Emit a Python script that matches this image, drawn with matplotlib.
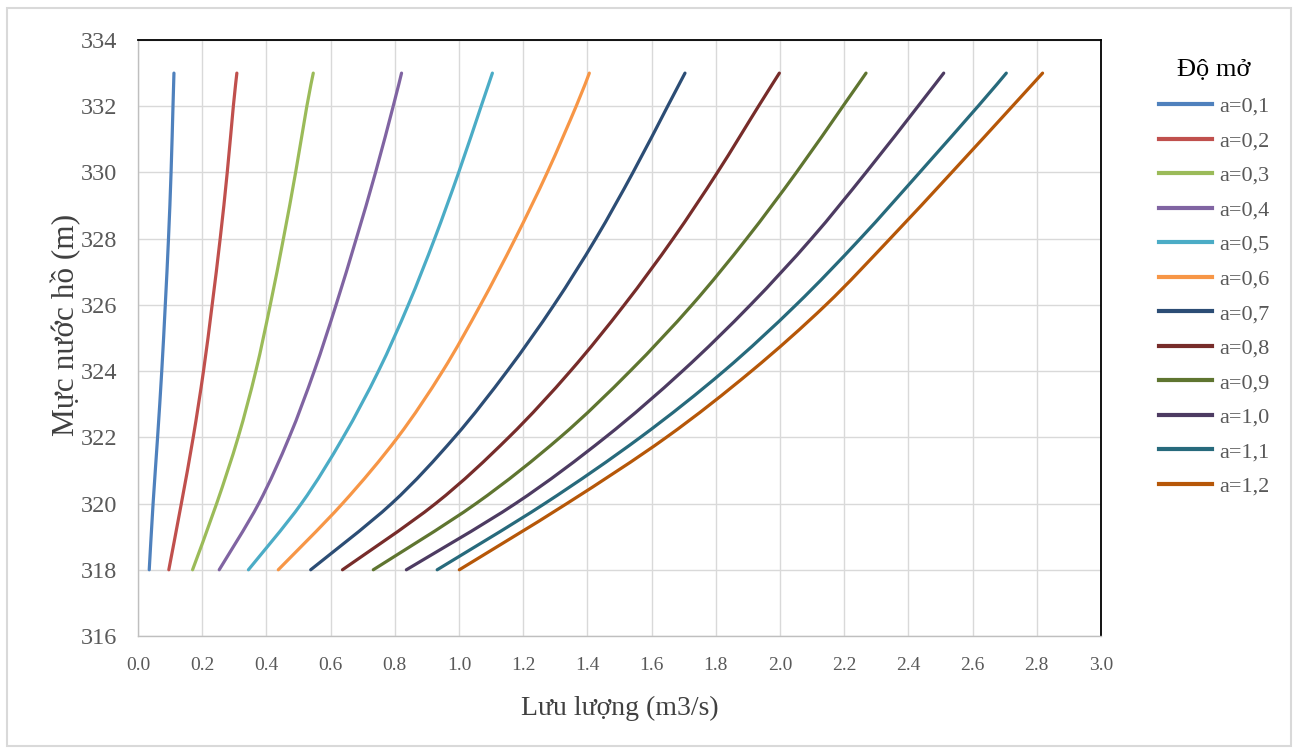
import matplotlib
matplotlib.use("Agg")
import matplotlib.pyplot as plt
from matplotlib.patches import Rectangle, PathPatch
from matplotlib.path import Path
from matplotlib.lines import Line2D

plt.rcParams['font.family'] = ['Liberation Serif', 'DejaVu Serif']

# Water levels (m)
levels = [318, 320, 322, 324, 326, 328, 330, 332, 333]

# Discharge (m3/s) for each gate opening
q_01 = [0.035, 0.047, 0.061, 0.074, 0.085, 0.095, 0.103, 0.109, 0.112]
q_02 = [0.096, 0.135, 0.172, 0.204, 0.231, 0.256, 0.278, 0.297, 0.308]
q_03 = [0.170, 0.245, 0.312, 0.367, 0.412, 0.453, 0.491, 0.526, 0.546]
q_04 = [0.253, 0.376, 0.471, 0.549, 0.617, 0.680, 0.740, 0.795, 0.821]
q_05 = [0.344, 0.509, 0.639, 0.749, 0.842, 0.924, 0.999, 1.069, 1.104]
q_06 = [0.437, 0.637, 0.809, 0.949, 1.067, 1.175, 1.275, 1.365, 1.406]
q_07 = [0.538, 0.790, 0.986, 1.150, 1.296, 1.426, 1.542, 1.650, 1.704]
q_08 = [0.637, 0.927, 1.155, 1.347, 1.515, 1.667, 1.805, 1.933, 1.998]
q_09 = [0.733, 1.053, 1.315, 1.533, 1.726, 1.896, 2.051, 2.196, 2.268]
q_10 = [0.836, 1.176, 1.456, 1.696, 1.908, 2.098, 2.268, 2.430, 2.510]
q_11 = [0.932, 1.267, 1.565, 1.825, 2.050, 2.250, 2.435, 2.617, 2.705]
q_12 = [1.001, 1.336, 1.646, 1.911, 2.143, 2.343, 2.535, 2.724, 2.818]

series = [q_01, q_02, q_03, q_04, q_05, q_06, q_07, q_08, q_09, q_10, q_11, q_12]
labels = ["a=0,1", "a=0,2", "a=0,3", "a=0,4", "a=0,5", "a=0,6",
          "a=0,7", "a=0,8", "a=0,9", "a=1,0", "a=1,1", "a=1,2"]
colors = ["#4F81BD", "#C0504D", "#9BBB59", "#8064A2", "#4BACC6", "#F79646",
          "#2C4D75", "#772C2A", "#5F7530", "#4D3B62", "#276A7C", "#B65708"]

x_ticks = [0.0, 0.2, 0.4, 0.6, 0.8, 1.0, 1.2, 1.4, 1.6, 1.8, 2.0, 2.2, 2.4, 2.6, 2.8, 3.0]
y_ticks = [316, 318, 320, 322, 324, 326, 328, 330, 332, 334]


def smooth_path(xs, ys, tension=1.0 / 6.0):
    """Excel-like smoothed line: Catmull-Rom segments drawn as cubic Beziers."""
    n = len(xs)
    verts = [(xs[0], ys[0])]
    codes = [Path.MOVETO]
    for i in range(n - 1):
        x0, y0 = (xs[i - 1], ys[i - 1]) if i > 0 else (xs[i], ys[i])
        x1, y1 = xs[i], ys[i]
        x2, y2 = xs[i + 1], ys[i + 1]
        x3, y3 = (xs[i + 2], ys[i + 2]) if i + 2 < n else (x2, y2)
        c1 = (x1 + (x2 - x0) * tension, y1 + (y2 - y0) * tension)
        c2 = (x2 - (x3 - x1) * tension, y2 - (y3 - y1) * tension)
        verts += [c1, c2, (x2, y2)]
        codes += [Path.CURVE4, Path.CURVE4, Path.CURVE4]
    return Path(verts, codes)


W, H = 1297, 753
fig = plt.figure(figsize=(W / 100, H / 100), dpi=100)
fig.patch.set_facecolor("white")
fig.patches.append(Rectangle((7 / W, 7 / H), 1284 / W, 738 / H, transform=fig.transFigure,
                             fill=False, edgecolor="#D9D9D9", linewidth=1.5))

ax = fig.add_axes([138 / W, 1 - 636 / H, (1101 - 138) / W, (636 - 40) / H])

handles = []
for q, lab, c in zip(series, labels, colors):
    patch = PathPatch(smooth_path(q, levels), facecolor="none", edgecolor=c,
                      linewidth=2.3, capstyle="round", joinstyle="round")
    ax.add_patch(patch)
    handles.append(Line2D([], [], color=c, linewidth=3, label=lab))

ax.set_xlim(0, 3.0)
ax.set_ylim(316, 334)
ax.set_xticks(x_ticks)
ax.set_xticklabels([f"{v:.1f}" for v in x_ticks])
ax.set_yticks(y_ticks)
ax.grid(True, color="#D9D9D9", linewidth=1.0)
ax.set_axisbelow(True)
ax.tick_params(axis="both", length=0, colors="#595959")
ax.tick_params(axis="x", labelsize=14, pad=15)
ax.tick_params(axis="y", labelsize=17.5, pad=15)

for side in ["top", "right"]:
    ax.spines[side].set_color("black")
    ax.spines[side].set_linewidth(1.3)
for side in ["left", "bottom"]:
    ax.spines[side].set_color("#BFBFBF")
    ax.spines[side].set_linewidth(1.0)

ax.set_xlabel("Lưu lượng (m3/s)", fontsize=20, color="#404040", labelpad=16)
ax.set_ylabel("Mực nước hồ (m)", fontsize=22.5, color="#404040")
ax.yaxis.set_label_coords(-0.059, 0.522)

leg = ax.legend(handles=handles, loc="upper left", bbox_to_anchor=(1150 / W, 1 - 50 / H),
                bbox_transform=fig.transFigure, frameon=False, fontsize=16,
                title="Độ mở", title_fontsize=19, handlelength=2.4,
                handletextpad=0.3, labelspacing=0.63, borderaxespad=0)
for t in leg.get_texts():
    t.set_color("#595959")
leg._legend_box.sep = 11

fig.savefig("out.png", dpi=100, facecolor="white")
